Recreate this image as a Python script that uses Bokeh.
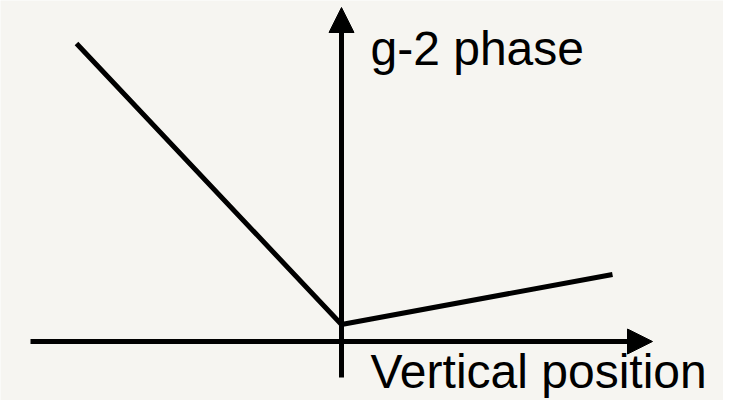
from bokeh.plotting import figure
from bokeh.models import Range1d, Arrow, NormalHead, ColumnDataSource
from bokeh.core.properties import value
from bokeh.embed import file_html
from bokeh.resources import INLINE

# schematic data (arbitrary units, axes cross at 0,0)
position = [-2.65, 0.0, 2.71]
phase = [2.98, 0.17, 0.67]

x_axis_label = "Vertical position"
y_axis_label = "g-2 phase"

BG = "#f6f5f1"

p = figure(width=723, height=400, output_backend="svg", toolbar_location=None,
           x_range=Range1d(-3.41, 3.82), y_range=Range1d(-0.59, 3.41),
           min_border=0, background_fill_color=BG, border_fill_color=BG)
p.axis.visible = False
p.grid.visible = False
p.outline_line_color = None

# horizontal axis with arrow
p.segment(x0=[-3.11], y0=[0], x1=[2.88], y1=[0], line_color="black", line_width=5)
p.add_layout(Arrow(end=NormalHead(size=25, fill_color="black", line_color="black", line_width=1),
                   x_start=2.86, y_start=0, x_end=3.11, y_end=0, line_alpha=0))
# vertical axis with arrow
p.segment(x0=[0], y0=[-0.36], x1=[0], y1=[3.11], line_color="black", line_width=5)
p.add_layout(Arrow(end=NormalHead(size=25, fill_color="black", line_color="black", line_width=1),
                   x_start=0, y_start=3.09, x_end=0, y_end=3.34, line_alpha=0))

# phase curve
p.line(position, phase, line_color="black", line_width=5, line_join="miter")

src = ColumnDataSource(dict(x=[0.29, 0.29], y=[2.93, -0.30], t=[y_axis_label, x_axis_label]))
p.text(x="x", y="y", text="t", source=src, text_font=value("Liberation Sans"),
       text_font_size="48px", text_color="black", text_align="left",
       text_baseline="alphabetic")

open("out.html", "w").write(file_html(p, INLINE))
